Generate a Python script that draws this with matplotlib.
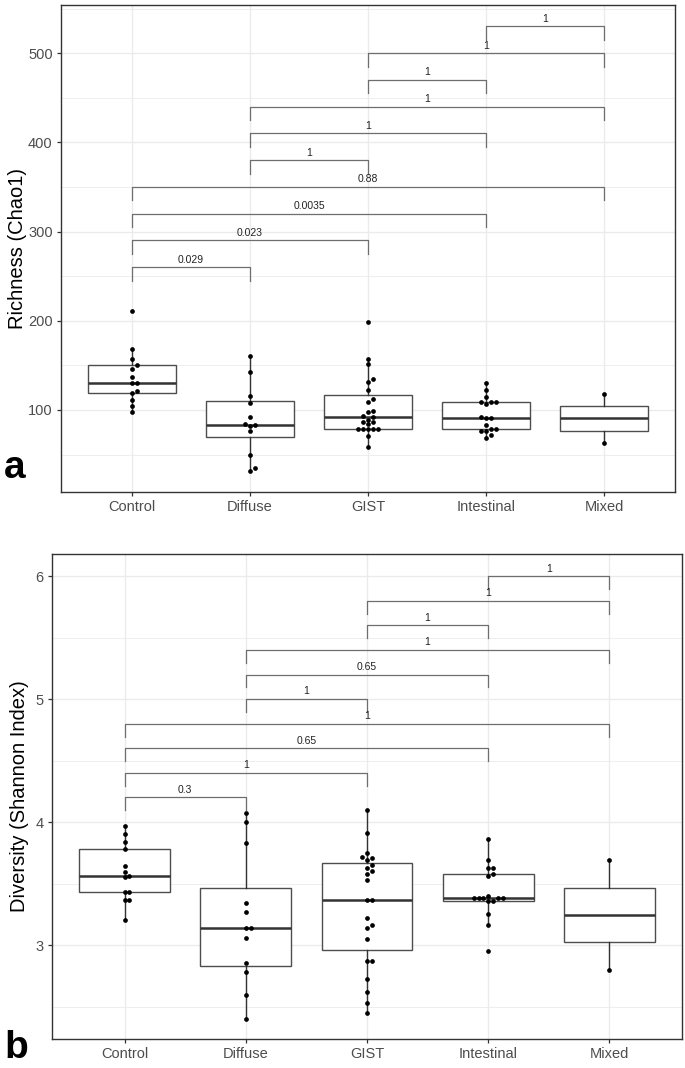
import numpy as np
import matplotlib
matplotlib.use("Agg")
import matplotlib.pyplot as plt
from matplotlib.ticker import MultipleLocator

plt.rcParams["font.family"] = ["Liberation Sans", "DejaVu Sans"]

GROUPS = ["Control", "Diffuse", "GIST", "Intestinal", "Mixed"]

# panel a: Chao1 richness per sample
chao1_control = [211, 168, 157, 150, 146, 137, 130, 130, 121, 119, 111, 104, 98]
chao1_diffuse = [160, 142, 116, 108, 92, 84, 83, 82, 76, 49, 35, 32]
chao1_gist = [199, 157, 151, 135, 131, 122, 112, 109, 99, 98, 93, 92, 89, 87, 86, 84,
              79, 79, 79, 79, 79, 71, 59]
chao1_intestinal = [130, 122, 115, 109, 109, 109, 107, 92, 91, 91, 83, 79, 79, 76, 76, 72, 69]
chao1_mixed = [118, 63]

# panel b: Shannon diversity per sample
shannon_control = [3.97, 3.90, 3.84, 3.78, 3.64, 3.59, 3.56, 3.55, 3.43, 3.43, 3.37, 3.37, 3.20]
shannon_diffuse = [4.07, 4.00, 3.83, 3.34, 3.27, 3.14, 3.14, 3.06, 2.85, 2.78, 2.59, 2.40]
shannon_gist = [4.10, 3.91, 3.75, 3.72, 3.71, 3.69, 3.65, 3.63, 3.60, 3.58, 3.53, 3.37, 3.37,
                3.22, 3.16, 3.14, 3.05, 2.87, 2.87, 2.72, 2.62, 2.53, 2.45]
shannon_intestinal = [3.86, 3.69, 3.63, 3.63, 3.58, 3.56, 3.40, 3.38, 3.38, 3.38, 3.38, 3.38,
                      3.36, 3.36, 3.25, 3.16, 2.95]
shannon_mixed = [3.69, 2.80]

# pairwise comparisons (group indices), p-values and bracket heights
PAIRS = [(0, 1), (0, 2), (0, 3), (0, 4), (1, 2), (1, 3), (1, 4), (2, 3), (2, 4), (3, 4)]
chao1_p = ["0.029", "0.023", "0.0035", "0.88", "1", "1", "1", "1", "1", "1"]
chao1_bracket_y = [260, 290, 320, 350, 380, 410, 440, 470, 500, 530]
shannon_p = ["0.3", "1", "0.65", "1", "1", "0.65", "1", "1", "1", "1"]
shannon_bracket_y = [4.2, 4.4, 4.6, 4.8, 5.0, 5.2, 5.4, 5.6, 5.8, 6.0]

FIG_W, FIG_H = 685, 1068
BORDER = "#333333"
GRID = "#ebebeb"
TEXT = "#4d4d4d"


def swarm_offsets(values, ax, diam=4.8):
    """Greedy beeswarm: shift points sideways when they would overlap."""
    vals = np.asarray(values, dtype=float)
    ys = ax.transData.transform(np.column_stack([np.ones(len(vals)), vals]))[:, 1]
    px_per_x = ax.transData.transform([(2, 0)])[0, 0] - ax.transData.transform([(1, 0)])[0, 0]
    placed = []
    offs = np.zeros(len(vals))
    for i in np.argsort(ys):
        for k in [0, 1, -1, 2, -2, 3, -3, 4, -4]:
            dx = k * diam
            if all((dx - px) ** 2 + (ys[i] - py) ** 2 >= (0.85 * diam) ** 2 for px, py in placed):
                break
        placed.append((dx, ys[i]))
        offs[i] = dx / px_per_x
    return offs


def panel(fig, rect, data, ylim, major, minor, ylabel, label_x, pvals, bracket_y, tick_len, txt_off):
    ax = fig.add_axes(rect)

    ax.boxplot(data, positions=range(1, 6), widths=0.75, showfliers=False, showcaps=False,
               patch_artist=True,
               boxprops=dict(facecolor="white", edgecolor="#4d4d4d", lw=1.0),
               whiskerprops=dict(color="#333333", lw=1.0),
               medianprops=dict(color="#333333", lw=1.8),
               zorder=2)

    ax.set_xlim(0.4, 5.6)
    ax.set_ylim(*ylim)
    ax.yaxis.set_major_locator(MultipleLocator(major))
    ax.yaxis.set_minor_locator(MultipleLocator(minor))
    ax.set_xticks(range(1, 6))
    ax.set_xticklabels(GROUPS)
    ax.grid(True, which="major", color=GRID, lw=1.0, zorder=0)
    ax.grid(True, which="minor", axis="y", color=GRID, lw=0.6, zorder=0)
    ax.set_axisbelow(True)
    for s in ax.spines.values():
        s.set_color(BORDER)
        s.set_linewidth(1.0)
    ax.tick_params(which="major", length=3, width=0.9, color=BORDER, labelcolor=TEXT,
                   labelsize=10.5, pad=3)
    ax.tick_params(which="minor", length=0)

    for i, vals in enumerate(data):
        offs = swarm_offsets(vals, ax)
        ax.plot(i + 1 + offs, vals, "o", ms=3.4, color="black", mec="none", zorder=3)

    for (a, b), p, y in zip(PAIRS, pvals, bracket_y):
        xa, xb = a + 1, b + 1
        ax.plot([xa, xa, xb, xb], [y - tick_len, y, y, y - tick_len],
                color="#6e6e6e", lw=0.9, zorder=4)
        ax.text((xa + xb) / 2, y + txt_off, p, ha="center", va="center",
                fontsize=7.5, color="#222222", zorder=5)

    ax.set_ylabel(ylabel, fontsize=14.5, color="black")
    ax.yaxis.set_label_coords(label_x, 0.5)
    return ax


def main():
    fig = plt.figure(figsize=(FIG_W / 100, FIG_H / 100), dpi=100)

    chao1 = [chao1_control, chao1_diffuse, chao1_gist, chao1_intestinal, chao1_mixed]
    shannon = [shannon_control, shannon_diffuse, shannon_gist, shannon_intestinal, shannon_mixed]

    # top panel (a)
    l, r, t, b = 61, 675, 5, 492
    panel(fig, [l / FIG_W, 1 - b / FIG_H, (r - l) / FIG_W, (b - t) / FIG_H],
          chao1, (8, 554), 100, 50, "Richness (Chao1)", -0.055,
          chao1_p, chao1_bracket_y, 15, 8.5)

    # bottom panel (b)
    l, r, t, b = 52, 682, 554, 1039
    panel(fig, [l / FIG_W, 1 - b / FIG_H, (r - l) / FIG_W, (b - t) / FIG_H],
          shannon, (2.236, 6.18), 1, 0.5, "Diversity (Shannon Index)", -0.037,
          shannon_p, shannon_bracket_y, 0.105, 0.062)

    fig.text(4 / FIG_W, 1 - 478 / FIG_H, "a", fontsize=28, fontweight="bold", va="baseline")
    fig.text(4 / FIG_W, 1 - 1058 / FIG_H, "b", fontsize=28, fontweight="bold", va="baseline")

    fig.savefig("out.png", dpi=100)
    plt.close(fig)


if __name__ == "__main__":
    main()
